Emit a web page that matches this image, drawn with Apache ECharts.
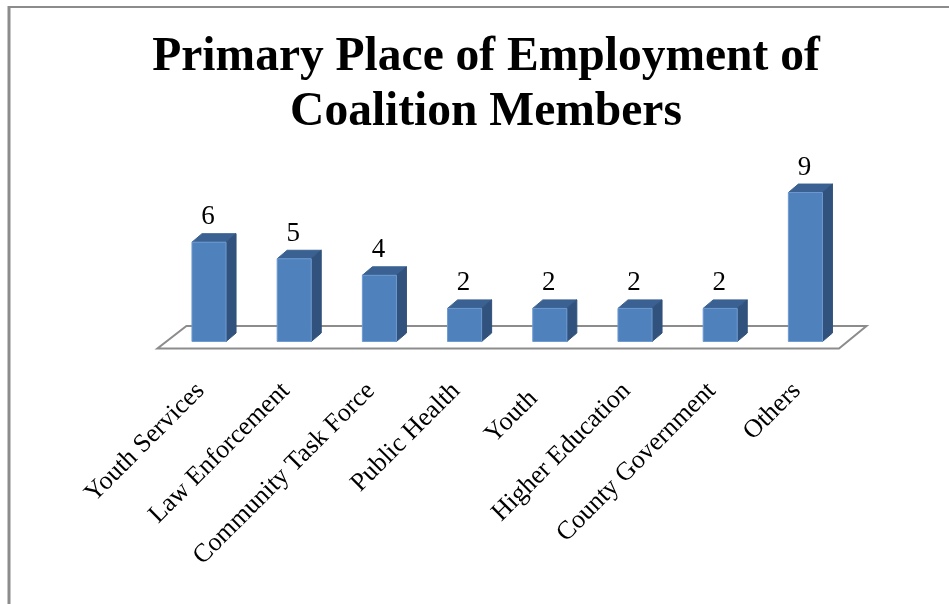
<!DOCTYPE html>
<html style="height: 100%">
<head>
<meta charset="utf-8">
<script src="https://cdn.jsdelivr.net/npm/echarts@6/dist/echarts.min.js"></script>
</head>
<body style="height: 100%; margin: 0; background: #fff">
<div id="container" style="width: 949px; height: 604px"></div>
<script type="text/javascript">
var titleText = 'Primary Place of Employment of\nCoalition Members';
var categories = ['Youth Services', 'Law Enforcement', 'Community Task Force', 'Public Health', 'Youth', 'Higher Education', 'County Government', 'Others'];
var values = [6, 5, 4, 2, 2, 2, 2, 9];

var serif = '"Liberation Serif", serif';
var depthX = 10, depthY = 8.5;

function poly(points, fill) {
	return {
		type: 'polygon',
		shape: { points: points },
		style: { fill: fill, stroke: fill === '#4f81bd' ? '#6f9bd1' : fill, lineWidth: 1 }
	};
}

function renderBar(params, api) {
	var top = api.coord([api.value(0), api.value(1)]);
	var base = api.coord([api.value(0), 0]);
	var half = api.size([1, 0])[0] * 0.2;
	var l = top[0] - half, r = top[0] + half;
	return {
		type: 'group',
		children: [
			poly([[l, top[1]], [l + depthX, top[1] - depthY], [r + depthX, top[1] - depthY], [r, top[1]]], '#3a6192'),
			poly([[r, top[1]], [r + depthX, top[1] - depthY], [r + depthX, base[1] - depthY], [r, base[1]]], '#30527c'),
			poly([[l, top[1]], [r, top[1]], [r, base[1]], [l, base[1]]], '#4f81bd'),
			{
				type: 'text',
				style: {
					x: top[0] - 1, y: top[1] - 25,
					text: String(api.value(1)),
					align: 'center', verticalAlign: 'middle',
					font: '27px ' + serif, fill: '#000'
				}
			}
		]
	};
}

function renderFloor(params) {
	var g = params.coordSys;
	var y = g.y + g.height;
	return {
		type: 'polygon',
		shape: { points: [
			[g.x - 9, y + 7], [g.x + g.width - 9, y + 7],
			[g.x + g.width + 18.5, y - 15.5], [g.x + 20, y - 15.5]
		] },
		style: { fill: '#fff', stroke: '#8c8c8c', lineWidth: 2 }
	};
}

var myChart = echarts.init(document.getElementById('container'));
myChart.setOption({
	animation: false,
	backgroundColor: '#fff',
	title: {
		text: titleText,
		left: 481, top: 25,
		textAlign: 'center',
		textStyle: { fontFamily: serif, fontWeight: 'bold', fontSize: 47.5, lineHeight: 55, color: '#000' }
	},
	grid: { left: 166.4, top: 176, width: 681.6, height: 165.5 },
	xAxis: {
		type: 'category',
		// the short "Youth" label sits further down its slant in the original
		data: categories.map(function(name) {
			return name === 'Youth' ? { value: name, textStyle: { padding: [0, 23, 0, 0] } } : name;
		}),
		axisLine: { show: false },
		axisTick: { show: false },
		axisLabel: { interval: 0, rotate: 45, margin: 37, padding: [0, 12, 0, 0], fontFamily: serif, fontSize: 26, color: '#000' }
	},
	yAxis: { type: 'value', min: 0, max: 10, show: false },
	graphic: [
		{ type: 'line', shape: { x1: 9, y1: 7, x2: 949, y2: 7 }, style: { stroke: '#8c8c8c', lineWidth: 2 } },
		{ type: 'line', shape: { x1: 9, y1: 6, x2: 9, y2: 604 }, style: { stroke: '#8c8c8c', lineWidth: 3 } }
	],
	series: [
		{ type: 'custom', data: [[0, 0]], renderItem: renderFloor, z: 1, silent: true },
		{
			type: 'custom',
			data: values.map(function(v, i) { return [i, v]; }),
			encode: { x: 0, y: 1 },
			renderItem: renderBar,
			z: 2
		}
	]
});
</script>
</body>
</html>
